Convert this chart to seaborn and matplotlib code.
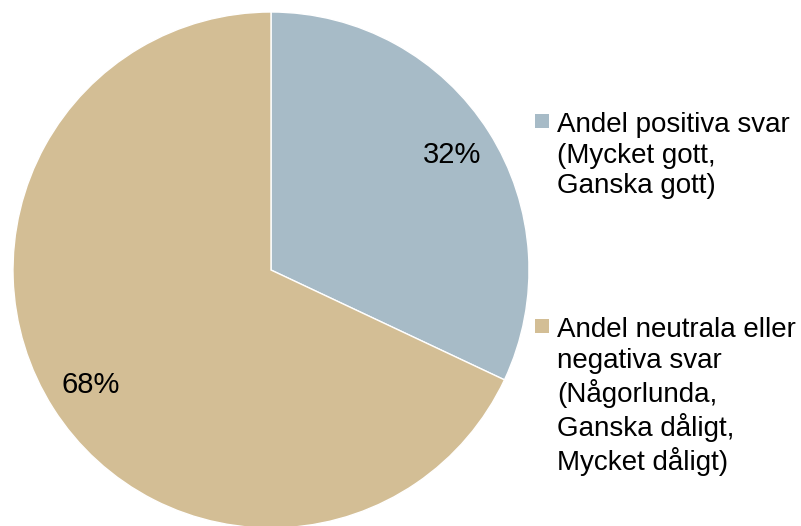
import numpy as np
import matplotlib
matplotlib.use("Agg")
import matplotlib.pyplot as plt
import seaborn as sns
from matplotlib.patches import Rectangle

# Data
categories = ["Andel positiva svar\n(Mycket gott,\nGanska gott)",
              "Andel neutrala eller\nnegativa svar\n(Någorlunda,\nGanska dåligt,\nMycket dåligt)"]
values = [32, 68]
colors = ["#A7BBC7", "#D3BE95"]

sns.set_theme(style="white")
plt.rcParams['font.family'] = ['Liberation Sans', 'DejaVu Sans']

W, H = 801, 526
fig = plt.figure(figsize=(W / 100, H / 100), dpi=100)

# pie area: center approx (271, 270) px, radius 258 px
cx, cy, r = 271, 270, 258
ax = fig.add_axes([(cx - r) / W, (H - cy - r) / H, 2 * r / W, 2 * r / H])
wedges, texts = ax.pie(values, colors=colors, startangle=90, counterclock=False,
                       labels=[f"{v}%" for v in values], labeldistance=0.83,
                       wedgeprops=dict(edgecolor="white", linewidth=1),
                       textprops=dict(fontsize=21, color="black", ha="center", va="center"))
ax.set_xlim(-1, 1)
ax.set_ylim(-1, 1)
ax.set_aspect("equal")
ax.axis("off")

# legend: squares aligned with the first line of each label
leg_x = 535
leg_tops = [112, 317]
sq = 14
for lab, col, top in zip(categories, colors, leg_tops):
    fig.patches.append(Rectangle((leg_x / W, 1 - (top + 2 + sq) / H), sq / W, sq / H,
                                 transform=fig.transFigure, facecolor=col, edgecolor="none"))
    fig.text((leg_x + 22) / W, 1 - top / H, lab, fontsize=20, va="top", ha="left",
             linespacing=1.23, color="black")

fig.savefig("out.png", dpi=100)
